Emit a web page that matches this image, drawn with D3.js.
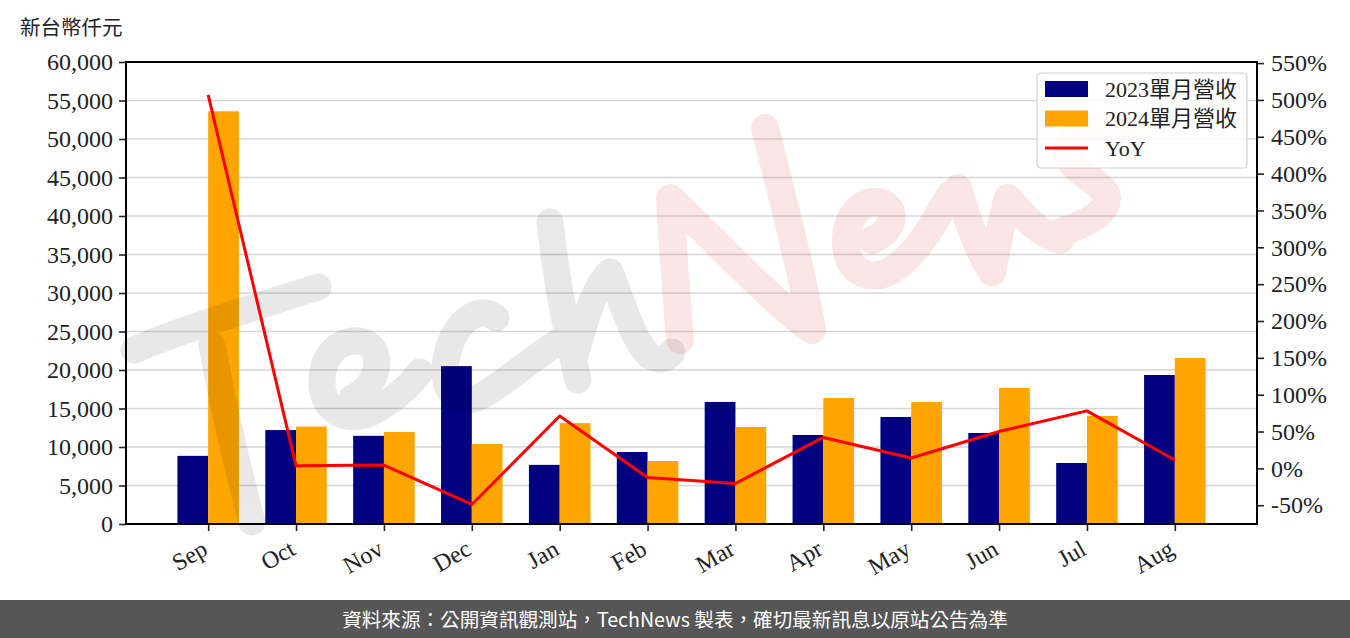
<!DOCTYPE html>
<html><head><meta charset="utf-8">
<script src="https://cdn.jsdelivr.net/npm/d3@7"></script>
<style>body{margin:0;background:#fff}svg{display:block}</style>
</head><body>
<svg id="c" width="1350" height="638"></svg>
<script>
const months = ["Sep","Oct","Nov","Dec","Jan","Feb","Mar","Apr","May","Jun","Jul","Aug"];
const rev2023 = [8850, 12200, 11450, 20500, 7680, 9350, 15850, 11560, 13900, 11820, 7920, 19350];
const rev2024 = [53600, 12650, 11950, 10400, 13100, 8180, 12600, 16360, 15840, 17660, 14030, 21560];
const yoy = [507, 3.5, 4.5, -49, 71, -12.5, -20.5, 42, 14, 50, 78, 11.3];
const leftTicks = [0,5000,10000,15000,20000,25000,30000,35000,40000,45000,50000,55000,60000];
const rightTicks = [-50,0,50,100,150,200,250,300,350,400,450,500,550];
const seriesNames = ["2023單月營收","2024單月營收","YoY"];
const yTitle = "新台幣仟元";
const footerText = "資料來源：公開資訊觀測站，TechNews 製表，確切最新訊息以原站公告為準";

const L=126, R=1257, T=62, B=524;
const serif = "'Liberation Serif','Times New Roman',serif";
const cjk = "'Noto Sans CJK TC','Noto Sans CJK SC',sans-serif";
const svg = d3.select("#c");

const bw = 0.35;
const x = d3.scaleLinear().domain([-bw - 0.05*(11+2*bw), 11 + bw + 0.05*(11+2*bw)]).range([L,R]);
const y = d3.scaleLinear().domain([0,60000]).range([B,T]);
const y2 = d3.scaleLinear().domain([-75.5,551.5]).range([B,T]);

// grid
svg.append("g").selectAll("line").data(leftTicks.slice(1,-1)).join("line")
  .attr("x1",L).attr("x2",R).attr("y1",d=>y(d)).attr("y2",d=>y(d))
  .attr("stroke","#d6d6d6").attr("stroke-width",1.6);

// bars
svg.append("g").selectAll("rect").data(rev2023).join("rect")
  .attr("x",(d,i)=>x(i-bw)).attr("width",(d,i)=>x(i)-x(i-bw))
  .attr("y",d=>y(d)).attr("height",d=>y(0)-y(d)).attr("fill","#000080");
svg.append("g").selectAll("rect").data(rev2024).join("rect")
  .attr("x",(d,i)=>x(i)).attr("width",(d,i)=>x(i+bw)-x(i))
  .attr("y",d=>y(d)).attr("height",d=>y(0)-y(d)).attr("fill","#FFA500");

// watermark (decorative brush strokes)
const wmGray = svg.append("g").attr("opacity",0.085).attr("fill","none").attr("stroke","#000")
  .attr("stroke-width",27).attr("stroke-linecap","round").attr("stroke-linejoin","round");
[
 "M134,350 C180,330 240,312 318,287",
 "M212,345 C222,400 238,470 252,522",
 "M352,398 C378,388 385,352 366,343 C346,335 324,350 322,378 C320,410 345,425 372,412 C395,400 410,385 420,372",
 "M496,318 C478,302 452,325 446,360 C440,395 462,410 488,392 C515,375 540,352 565,338",
 "M550,222 C556,280 566,330 578,380",
 "M575,355 C585,320 595,285 610,272 C622,300 632,340 650,356 C660,362 668,358 672,352"
].forEach(p=>wmGray.append("path").attr("d",p));
const wmPink = svg.append("g").attr("opacity",0.12).attr("fill","none").attr("stroke","rgb(220,50,50)")
  .attr("stroke-width",28).attr("stroke-linecap","round").attr("stroke-linejoin","round");
[
 "M680,340 C676,290 672,240 670,198 C715,240 770,300 812,330 C800,260 780,190 765,128",
 "M872,240 C892,232 898,212 884,204 C866,196 848,212 846,238 C844,268 866,285 892,270 C920,252 935,220 950,195",
 "M958,188 C965,215 978,250 992,272 C998,245 1002,215 1008,198 C1022,215 1040,235 1060,240",
 "M1130,130 C1100,120 1070,130 1068,150 C1066,168 1095,178 1105,192 C1115,210 1085,225 1060,232"
].forEach(p=>wmPink.append("path").attr("d",p));

// YoY line
svg.append("path").datum(yoy)
  .attr("d", d3.line().x((d,i)=>x(i)).y(d=>y2(d)))
  .attr("fill","none").attr("stroke","#FF0000").attr("stroke-width",3).attr("stroke-linejoin","round");

// axes
const ga = svg.append("g").attr("transform",`translate(${L},0)`)
  .call(d3.axisLeft(y).tickValues(leftTicks).tickFormat(d3.format(",")).tickSize(7).tickPadding(6));
const gr = svg.append("g").attr("transform",`translate(${R},0)`)
  .call(d3.axisRight(y2).tickValues(rightTicks).tickFormat(d=>d+"%").tickSize(7).tickPadding(7));
const gx = svg.append("g").attr("transform",`translate(0,${B})`)
  .call(d3.axisBottom(x).tickValues(d3.range(12)).tickFormat(i=>months[i]).tickSize(7));
[ga,gr,gx].forEach(g=>{
  g.select(".domain").remove();
  g.selectAll(".tick line").attr("stroke","#222").attr("stroke-width",1.6);
  g.selectAll("text").attr("font-family",serif).attr("font-size",24).attr("fill","#222");
});
gx.selectAll(".tick text").attr("text-anchor","end").attr("dy",null).attr("y",null)
  .attr("transform","translate(-8,15) rotate(-30)").attr("dominant-baseline","hanging");

// frame
svg.append("rect").attr("x",L).attr("y",T).attr("width",R-L).attr("height",B-T)
  .attr("fill","none").attr("stroke","#000").attr("stroke-width",2);

// y title
svg.append("text").attr("x",20).attr("y",35).text(yTitle)
  .attr("font-family",cjk).attr("font-size",20.5).attr("fill","#222");

// legend
const lg = svg.append("g").attr("transform","translate(1037,73)");
lg.append("rect").attr("width",210).attr("height",95).attr("rx",4)
  .attr("fill","rgba(255,255,255,0.85)").attr("stroke","#d0d0d0").attr("stroke-width",1.2);
const colors = ["#000080","#FFA500","#FF0000"];
seriesNames.forEach((n,i)=>{
  const cy = 16 + i*29.5;
  if(i<2) lg.append("rect").attr("x",8).attr("y",cy-8).attr("width",43).attr("height",16).attr("fill",colors[i]);
  else lg.append("line").attr("x1",8).attr("x2",51).attr("y1",cy).attr("y2",cy).attr("stroke",colors[i]).attr("stroke-width",3);
  lg.append("text").attr("x",68).attr("y",cy).attr("dy","0.35em").text(n)
    .attr("font-family",serif+","+cjk).attr("font-size",22).attr("fill","#222");
});

// footer
svg.append("rect").attr("x",0).attr("y",600).attr("width",1350).attr("height",38).attr("fill","#565656");
svg.append("text").attr("x",675).attr("y",620).attr("dy","0.35em").attr("text-anchor","middle")
  .text(footerText).attr("font-family",cjk).attr("font-size",19.6).attr("fill","#fff");
</script>
</body></html>
